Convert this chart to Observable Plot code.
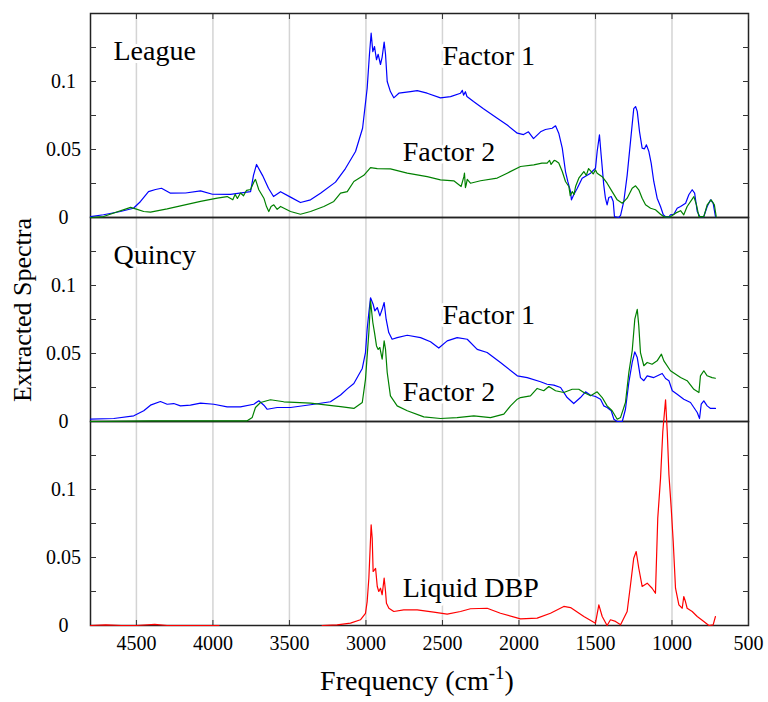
<!DOCTYPE html>
<html><head><meta charset="utf-8">
<script src="https://cdn.jsdelivr.net/npm/d3@7"></script>
<script src="https://cdn.jsdelivr.net/npm/@observablehq/plot@0.6"></script>
<style>body{margin:0;background:#fff} #chart{width:768px;height:702px}</style>
</head><body><div id="chart"></div>
<script>
// Panels (top to bottom)
const panels = ["League", "Quincy", "DBP"];
const seriesNames = ["Factor 1", "Factor 2", "Liquid DBP"];
const seriesColors = ["#0000ff", "#008000", "#ff0000"];
const freqTicks = [4500, 4000, 3500, 3000, 2500, 2000, 1500, 1000, 500];
const valueTicks = [0, 0.05, 0.1];
const minorTicks = [0.025, 0.05, 0.075, 0.1, 0.125];

// [frequency cm^-1, value]
const leagueFactor1 = [[4800,0.0007],[4715,0.002],[4604,0.0044],[4519,0.0068],[4473,0.0118],[4421,0.019],[4375,0.0206],[4336,0.0215],[4277,0.0179],[4179,0.018],[4081,0.0196],[4003,0.0171],[3885,0.017],[3754,0.019],[3735,0.031],[3715,0.039],[3676,0.031],[3637,0.0215],[3604,0.0154],[3558,0.019],[3493,0.015],[3428,0.011],[3362,0.013],[3297,0.0179],[3199,0.026],[3134,0.036],[3068,0.0485],[3022,0.0656],[2992,0.095],[2977,0.120],[2966,0.1355],[2955,0.122],[2944,0.1257],[2931,0.116],[2920,0.120],[2905,0.1125],[2894,0.118],[2881,0.129],[2872,0.120],[2861,0.100],[2840,0.0926],[2818,0.088],[2785,0.0914],[2709,0.0926],[2665,0.0933],[2600,0.0914],[2513,0.088],[2447,0.0889],[2382,0.0914],[2370,0.0935],[2362,0.090],[2350,0.0925],[2340,0.089],[2297,0.0853],[2232,0.080],[2142,0.073],[2077,0.068],[2011,0.062],[1970,0.061],[1938,0.063],[1905,0.058],[1859,0.063],[1827,0.0647],[1783,0.0656],[1761,0.0674],[1740,0.062],[1717,0.051],[1696,0.0338],[1681,0.0265],[1663,0.019],[1657,0.013],[1642,0.0167],[1619,0.0215],[1587,0.0289],[1532,0.0326],[1500,0.0362],[1489,0.0485],[1474,0.0608],[1463,0.046],[1446,0.024],[1435,0.0142],[1424,0.0093],[1413,0.0147],[1397,0.0154],[1384,0.0118],[1376,0.0007],[1348,0],[1336,0.0015],[1315,0.0118],[1293,0.031],[1271,0.056],[1250,0.080],[1238,0.0816],[1227,0.078],[1212,0.063],[1195,0.051],[1180,0.0505],[1167,0.0534],[1151,0.0485],[1136,0.040],[1119,0.0265],[1097,0.0142],[1075,0.0081],[1057,0.002],[1042,0.0005],[1020,0.0005],[1010,0.002],[988,0.0024],[966,0.0068],[944,0.0081],[911,0.0105],[890,0.0167],[868,0.0204],[852,0.0179],[835,0.0044],[818,0.0007],[792,0.0007],[770,0.0081],[748,0.013],[731,0.0105],[716,0.0007]];

const leagueFactor2 = [[4800,0],[4715,0.0007],[4538,0.0074],[4500,0.0062],[4452,0.0044],[4408,0.004],[4299,0.0064],[4081,0.0118],[3972,0.0142],[3907,0.0154],[3870,0.013],[3855,0.017],[3840,0.014],[3820,0.018],[3800,0.016],[3780,0.02],[3754,0.0206],[3733,0.026],[3722,0.028],[3700,0.0204],[3667,0.0142],[3650,0.008],[3635,0.0044],[3620,0.008],[3602,0.0093],[3580,0.006],[3558,0.0081],[3493,0.0044],[3428,0.0024],[3362,0.0044],[3275,0.0081],[3210,0.0118],[3166,0.0179],[3122,0.019],[3079,0.0265],[3014,0.031],[2970,0.0367],[2926,0.036],[2840,0.0358],[2730,0.0326],[2600,0.030],[2513,0.0277],[2426,0.027],[2378,0.0228],[2360,0.03],[2356,0.0326],[2350,0.022],[2345,0.024],[2338,0.028],[2317,0.0252],[2251,0.027],[2142,0.029],[2077,0.0326],[1990,0.0375],[1903,0.0387],[1850,0.040],[1816,0.040],[1800,0.042],[1790,0.039],[1770,0.042],[1761,0.0417],[1740,0.040],[1717,0.0338],[1696,0.0265],[1674,0.0228],[1665,0.016],[1652,0.019],[1640,0.017],[1630,0.0228],[1609,0.0289],[1576,0.0338],[1560,0.031],[1545,0.036],[1532,0.0343],[1515,0.032],[1500,0.035],[1489,0.0326],[1456,0.030],[1424,0.0252],[1391,0.019],[1358,0.013],[1325,0.0105],[1293,0.0142],[1260,0.0215],[1238,0.0233],[1217,0.0204],[1195,0.0142],[1173,0.0093],[1140,0.0068],[1108,0.0057],[1075,0.0024],[1053,0.0005],[1010,0.0005],[977,0.0032],[944,0.005],[923,0.002],[901,0.0081],[857,0.0154],[840,0.0093],[824,0.0007],[792,0.0007],[770,0.0093],[744,0.013],[723,0.0093],[711,0.0007]];

const quincyFactor1 = [[4800,0.0017],[4648,0.0022],[4517,0.0042],[4452,0.0079],[4408,0.012],[4343,0.0147],[4299,0.0127],[4256,0.0132],[4212,0.0115],[4147,0.012],[4081,0.0135],[3994,0.0127],[3907,0.0108],[3820,0.0108],[3733,0.0127],[3700,0.0152],[3667,0.012],[3645,0.009],[3580,0.0103],[3493,0.0103],[3362,0.0123],[3232,0.0145],[3166,0.0195],[3122,0.024],[3079,0.028],[3024,0.039],[3003,0.0507],[2992,0.0678],[2981,0.080],[2970,0.091],[2953,0.0862],[2942,0.0814],[2926,0.0838],[2909,0.0777],[2894,0.0825],[2881,0.0875],[2868,0.0752],[2851,0.0654],[2829,0.0605],[2796,0.0617],[2730,0.0634],[2643,0.0617],[2578,0.0586],[2524,0.054],[2469,0.0593],[2404,0.0617],[2338,0.0605],[2273,0.053],[2208,0.0507],[2121,0.0434],[2011,0.0336],[1946,0.0323],[1859,0.0292],[1816,0.0274],[1772,0.0267],[1728,0.025],[1685,0.0176],[1642,0.0132],[1598,0.0176],[1565,0.0218],[1532,0.0193],[1500,0.0184],[1467,0.0164],[1446,0.0115],[1424,0.0103],[1397,0.0079],[1380,0.0017],[1358,0],[1325,0],[1304,0.009],[1282,0.0287],[1260,0.0434],[1243,0.0512],[1227,0.047],[1206,0.0323],[1184,0.030],[1162,0.0336],[1119,0.0323],[1064,0.0353],[1042,0.0316],[1020,0.030],[998,0.0226],[966,0.020],[923,0.0164],[879,0.014],[835,0.0066],[820,0.0022],[809,0.0127],[792,0.0152],[770,0.0115],[748,0.0096],[716,0.0096]];

const quincyFactor2 = [[4800,0],[4400,0.0005],[4000,0.0005],[3776,0.0005],[3743,0.003],[3722,0.0103],[3689,0.014],[3624,0.016],[3537,0.0145],[3362,0.0135],[3210,0.0115],[3166,0.011],[3079,0.0096],[3024,0.014],[3003,0.031],[2981,0.0654],[2970,0.0887],[2955,0.0728],[2944,0.0654],[2931,0.0556],[2920,0.053],[2909,0.0544],[2894,0.0458],[2881,0.0593],[2872,0.053],[2861,0.036],[2840,0.0189],[2796,0.0115],[2730,0.0079],[2622,0.0034],[2513,0.0022],[2404,0.0029],[2295,0.0042],[2186,0.0029],[2099,0.0054],[2055,0.0115],[2011,0.0164],[1990,0.0176],[1925,0.0189],[1881,0.0243],[1838,0.0226],[1805,0.0257],[1761,0.0226],[1707,0.0213],[1652,0.0237],[1609,0.0237],[1576,0.0213],[1532,0.0189],[1489,0.0218],[1456,0.0176],[1424,0.0115],[1391,0.0079],[1358,0.0017],[1336,0.003],[1304,0.014],[1282,0.036],[1260,0.052],[1243,0.0752],[1227,0.0825],[1217,0.0703],[1206,0.0507],[1184,0.041],[1162,0.0434],[1130,0.0421],[1097,0.0446],[1069,0.0495],[1053,0.0446],[1010,0.0373],[944,0.0323],[901,0.030],[857,0.0237],[824,0.0213],[814,0.0336],[792,0.0373],[770,0.0336],[738,0.0323],[716,0.0318]];

const liquidDBP = [[4800,0],[4700,0.0005],[4600,0],[4500,0],[4380,0.0008],[4300,0],[4100,0],[3960,0],[3900,null],[3286,0],[3188,0.0005],[3101,0.0017],[3036,0.0042],[3003,0.009],[2992,0.0176],[2981,0.0348],[2966,0.074],[2959,0.0642],[2953,0.0397],[2937,0.042],[2926,0.0287],[2916,0.025],[2905,0.0274],[2894,0.0226],[2881,0.0348],[2872,0.025],[2866,0.0164],[2850,0.0127],[2818,0.0103],[2753,0.0115],[2665,0.0115],[2557,0.0098],[2469,0.0083],[2382,0.0103],[2317,0.0123],[2208,0.0127],[2121,0.009],[1990,0.0049],[1881,0.0054],[1794,0.009],[1707,0.014],[1663,0.0132],[1576,0.0066],[1500,0.0017],[1478,0.0152],[1456,0.0066],[1424,0],[1402,0.0042],[1369,0.003],[1336,0.0005],[1293,0.0103],[1271,0.03],[1250,0.0495],[1234,0.0544],[1217,0.0421],[1195,0.0287],[1162,0.0311],[1130,0.0274],[1108,0.0237],[1093,0.0789],[1075,0.108],[1060,0.1426],[1049,0.157],[1042,0.166],[1031,0.1426],[1020,0.111],[1005,0.0862],[992,0.0617],[977,0.0274],[955,0.0152],[933,0.0127],[923,0.0213],[912,0.0176],[901,0.0127],[868,0.0103],[835,0.0066],[792,0.003],[759,0],[731,0.0005],[716,0.0066]];

// Annotations
const labelText  = ["League", "Factor 1", "Factor 2", "Quincy", "Factor 1", "Factor 2", "Liquid DBP"];
const labelPanel = ["League", "League", "League", "Quincy", "Quincy", "Quincy", "DBP"];
const labelFreq  = [4650, 2500, 2760, 4650, 2500, 2760, 2760];
const labelValue = [0.116, 0.112, 0.0412, 0.1156, 0.0715, 0.0152, 0.0213];

const serif = "Liberation Serif";
const rows = (pairs, panel, series) => pairs.map(([x, y]) => ({panel, series, x, y}));
const lineSets = [
  [rows(leagueFactor1, "League", "Factor 1"), 0],
  [rows(quincyFactor1, "Quincy", "Factor 1"), 0],
  [rows(leagueFactor2, "League", "Factor 2"), 1],
  [rows(quincyFactor2, "Quincy", "Factor 2"), 1],
  [rows(liquidDBP, "DBP", "Liquid DBP"), 2]
];
const labels = labelText.map((t, i) => ({t, panel: labelPanel[i], x: labelFreq[i], y: labelValue[i]}));

const chart = Plot.plot({
  width: 768,
  height: 702,
  marginLeft: 90,
  marginRight: 20,
  marginTop: 12,
  marginBottom: 77,
  style: {fontFamily: serif, fontSize: "20px", background: "#fff", color: "#000"},
  x: {domain: [4800, 500]},
  y: {domain: [0, 0.15]},
  fy: {domain: panels, padding: 0, axis: null},
  marks: [
    Plot.ruleX(freqTicks.filter(d => d !== 500), {stroke: "#d4d4d4", strokeWidth: 1.5}),
    Plot.text(labels, {x: "x", y: "y", fy: "panel", text: "t", textAnchor: "start", lineAnchor: "bottom",
      fontSize: 28, fontFamily: serif, fill: "#000", stroke: "#fff", strokeWidth: 6, paintOrder: "stroke"}),
    Plot.frame({stroke: "#222", strokeWidth: 1.5}),
    Plot.axisY({ticks: valueTicks, tickSize: 0, tickPadding: 27, textAnchor: "middle", tickFormat: d => String(d), label: null, fontSize: 20, fontFamily: serif}),
    Plot.axisY({ticks: minorTicks, tickSize: -6, tickFormat: () => "", label: null, stroke: "#333"}),
    Plot.axisY({anchor: "right", ticks: minorTicks, tickSize: -6, tickFormat: () => "", label: null, stroke: "#333"}),
    Plot.axisX({anchor: "bottom", ticks: freqTicks, tickSize: 0, tickPadding: 10, tickFormat: d => String(d), label: null, fontSize: 20, fontFamily: serif}),
    Plot.axisX({anchor: "bottom", ticks: freqTicks, tickSize: -5, tickFormat: () => "", label: null, stroke: "#333"}),
    Plot.axisX({anchor: "top", ticks: freqTicks, tickSize: -5, tickFormat: () => "", label: null, stroke: "#333"}),
    ...lineSets.map(([data, c]) => Plot.line(data, {x: "x", y: "y", fy: "panel", stroke: seriesColors[c], strokeWidth: 1.2}))
  ]
});

const svg = d3.select(chart);
svg.attr("font-family", serif);
svg.append("text")
  .attr("transform", "translate(31,310) rotate(-90)")
  .attr("text-anchor", "middle")
  .attr("font-size", 26)
  .attr("font-family", serif)
  .attr("fill", "#000")
  .text("Extracted Spectra");
const xt = svg.append("text")
  .attr("x", 417).attr("y", 690)
  .attr("text-anchor", "middle")
  .attr("font-size", 28)
  .attr("font-family", serif)
  .attr("fill", "#000");
xt.append("tspan").text("Frequency (cm");
xt.append("tspan").attr("font-size", 19).attr("dy", -11).text("-1");
xt.append("tspan").attr("dy", 11).text(")");

document.getElementById("chart").appendChild(chart);
</script></body></html>
